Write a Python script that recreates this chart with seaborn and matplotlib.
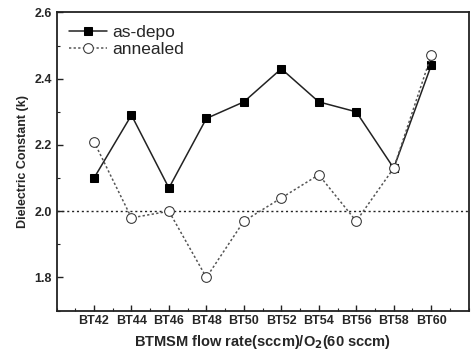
import matplotlib
matplotlib.use("Agg")
import matplotlib.pyplot as plt
import seaborn as sns
import pandas as pd
from matplotlib.ticker import MultipleLocator

# --- Data ---
samples = ["BT42", "BT44", "BT46", "BT48", "BT50", "BT52", "BT54", "BT56", "BT58", "BT60"]
as_depo = [2.10, 2.29, 2.07, 2.28, 2.33, 2.43, 2.33, 2.30, 2.13, 2.44]
annealed = [2.21, 1.98, 2.00, 1.80, 1.97, 2.04, 2.11, 1.97, 2.13, 2.47]
reference_k = 2.0

sns.set_theme(style="ticks")
plt.rcParams["font.family"] = ["Liberation Sans", "DejaVu Sans"]
plt.rcParams["font.weight"] = "bold"

df = pd.DataFrame({"pos": range(len(samples)), "as-depo": as_depo, "annealed": annealed})

fig, ax = plt.subplots(figsize=(4.71, 3.55), dpi=100)

sns.lineplot(data=df, x="pos", y="as-depo", ax=ax, color="#222222", lw=1.1,
             marker="s", markersize=6, markerfacecolor="black", markeredgecolor="black",
             label="as-depo")
sns.lineplot(data=df, x="pos", y="annealed", ax=ax, color="#555555", lw=1.1, linestyle=(0, (1.5, 1.5)),
             marker="o", markersize=7, markerfacecolor="white", markeredgecolor="#333333",
             label="annealed")
ax.axhline(reference_k, color="#222222", lw=1.0, linestyle=(0, (1.5, 2)), zorder=1)

ax.set_xlim(-1, 10)
ax.set_ylim(1.7, 2.6)
ax.set_xticks(range(len(samples)))
ax.set_xticklabels(samples)
ax.xaxis.set_minor_locator(MultipleLocator(0.5))
ax.yaxis.set_minor_locator(MultipleLocator(0.1))
ax.set_yticks([1.8, 2.0, 2.2, 2.4, 2.6])
ax.tick_params(which="both", direction="in", color="#222222", labelsize=9)
ax.tick_params(which="major", length=4, width=1.0)
ax.tick_params(which="minor", length=2, width=0.8)
for s in ax.spines.values():
    s.set_linewidth(1.3)
    s.set_color("#222222")

ax.set_xlabel("BTMSM flow rate(sccm)/O$_\\mathbf{2}$(60 sccm)", fontsize=10.5, fontweight="bold")
ax.set_ylabel("Dielectric Constant (k)", fontsize=9, fontweight="bold")

leg = ax.legend(loc="upper left", frameon=False, fontsize=12.5, handlelength=2.2,
                handletextpad=0.3, borderaxespad=0.3, labelspacing=0.15)
for t in leg.get_texts():
    t.set_fontweight("normal")

fig.subplots_adjust(left=0.12, right=0.995, top=0.965, bottom=0.125)
fig.savefig("out.png", dpi=100)
